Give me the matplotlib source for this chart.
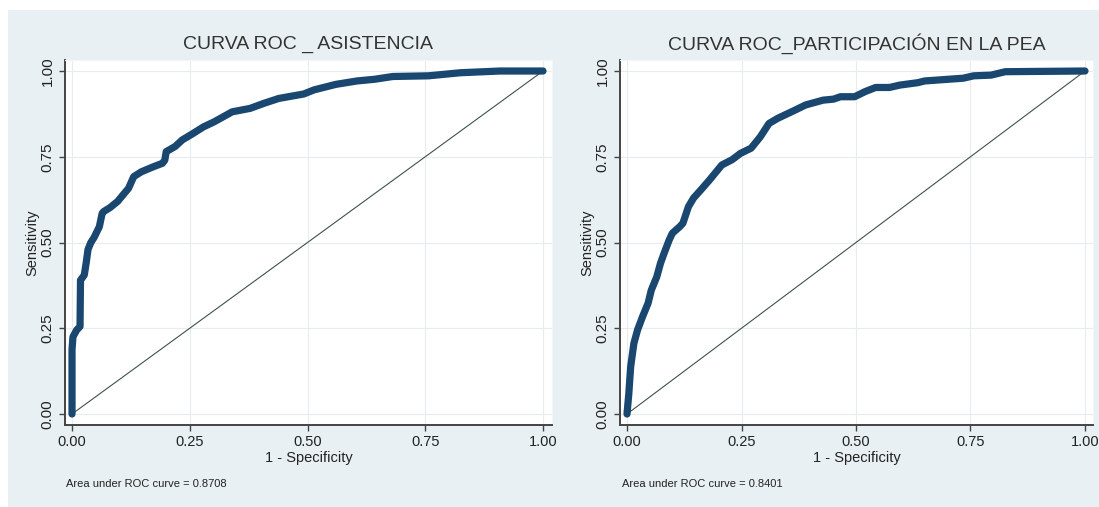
import numpy as np
import matplotlib
matplotlib.use('Agg')
import matplotlib.pyplot as plt
from matplotlib.patches import Rectangle

# Fuente tipo Arial (Stata)
plt.rcParams['font.family'] = ['Liberation Sans', 'DejaVu Sans']

# ==========================================
# Datos de las curvas ROC (1 - especificidad, sensibilidad)
# ==========================================
asistencia_fpr = [0.0, 0.0, 0.002, 0.006, 0.010, 0.017, 0.018, 0.026, 0.030, 0.034,
                  0.040, 0.047, 0.058, 0.064, 0.067, 0.081, 0.097, 0.109, 0.120, 0.131,
                  0.147, 0.173, 0.192, 0.197, 0.200, 0.219, 0.234, 0.257, 0.279, 0.302,
                  0.340, 0.378, 0.408, 0.439, 0.492, 0.514, 0.560, 0.605, 0.643, 0.681,
                  0.757, 0.825, 0.909, 1.0]
asistencia_tpr = [0.0, 0.187, 0.225, 0.235, 0.245, 0.255, 0.390, 0.405, 0.440, 0.480,
                  0.500, 0.515, 0.546, 0.585, 0.590, 0.602, 0.620, 0.640, 0.658, 0.692,
                  0.706, 0.721, 0.731, 0.740, 0.765, 0.780, 0.799, 0.818, 0.837, 0.852,
                  0.881, 0.891, 0.906, 0.920, 0.933, 0.945, 0.961, 0.971, 0.976, 0.984,
                  0.986, 0.995, 1.0, 1.0]

pea_fpr = [0.0, 0.002, 0.004, 0.008, 0.015, 0.023, 0.034, 0.046, 0.053, 0.065,
           0.073, 0.080, 0.092, 0.099, 0.115, 0.122, 0.134, 0.145, 0.161, 0.180,
           0.207, 0.229, 0.248, 0.271, 0.291, 0.310, 0.329, 0.367, 0.390, 0.428,
           0.451, 0.466, 0.497, 0.520, 0.543, 0.573, 0.596, 0.635, 0.650, 0.734,
           0.757, 0.795, 0.826, 1.0]
pea_tpr = [0.0, 0.030, 0.060, 0.138, 0.206, 0.245, 0.284, 0.323, 0.361, 0.400,
           0.439, 0.465, 0.507, 0.527, 0.546, 0.556, 0.604, 0.629, 0.653, 0.682,
           0.726, 0.741, 0.760, 0.775, 0.808, 0.847, 0.862, 0.886, 0.901, 0.915,
           0.918, 0.925, 0.925, 0.940, 0.952, 0.952, 0.959, 0.966, 0.971, 0.979,
           0.986, 0.988, 0.998, 1.0]

titles = ['CURVA ROC _ ASISTENCIA', 'CURVA ROC_PARTICIPACIÓN EN LA PEA']
auc_values = [0.8708, 0.8401]
ticks = [0.0, 0.25, 0.5, 0.75, 1.0]
tick_labels = ['0.00', '0.25', '0.50', '0.75', '1.00']

BG = '#e9f0f3'
NAVY = '#1a476f'
W, H = 1099, 507


def px_axes(left, right, top, bottom):
    # convierte bordes en pixeles a coordenadas de figura
    return [left / W, (H - bottom) / H, (right - left) / W, (bottom - top) / H]


def plot_roc(fig, rect, xlim, fpr, tpr, title, auc, title_x, label_x):
    ax = fig.add_axes(rect)
    ax.set_facecolor('white')
    ax.plot([0, 1], [0, 1], color='#3f5247', linewidth=0.8, zorder=2)
    ax.plot(fpr, tpr, color=NAVY, linewidth=5.2, solid_capstyle='round',
            solid_joinstyle='round', zorder=3)

    ax.set_xlim(*xlim)
    ax.set_ylim(-0.0321, 1.0321)
    ax.set_xticks(ticks)
    ax.set_xticklabels(tick_labels, fontsize=10.5, color='#222222')
    ax.set_yticks(ticks)
    ax.set_yticklabels(tick_labels, fontsize=11, color='#222222',
                       rotation=90, va='center')
    ax.tick_params(direction='out', length=4.5, width=1.0, color='#444444', pad=3)
    ax.grid(True, color='#e6ecef', linewidth=0.8, zorder=0)

    for side in ['top', 'right']:
        ax.spines[side].set_color('#f2f6f7')
        ax.spines[side].set_linewidth(0.8)
    for side in ['left', 'bottom']:
        ax.spines[side].set_color('#444444')
        ax.spines[side].set_linewidth(1.4)

    ax.set_ylabel('Sensitivity', fontsize=10.5, color='#222222', labelpad=1)
    ax.set_xlabel('1 - Specificity', fontsize=10.5, color='#222222', labelpad=1)

    fig.text(title_x / W, 1 - 44 / H, title, fontsize=14, color='#333333',
             ha='center', va='center')
    fig.text(label_x / W, 1 - 484 / H, f'Area under ROC curve = {auc:.4f}',
             fontsize=8, color='#222222', ha='left', va='center')
    return ax


fig = plt.figure(figsize=(W / 100, H / 100), dpi=100, facecolor='white')
fig.patches.append(Rectangle((8 / W, 0), 1 - 8 / W, (H - 10) / H,
                             transform=fig.transFigure, facecolor=BG,
                             edgecolor='none', zorder=-1))

plot_roc(fig, px_axes(65, 552, 60, 425), (-0.0149, 1.0191),
         asistencia_fpr, asistencia_tpr, titles[0], auc_values[0], 308, 66)
plot_roc(fig, px_axes(620, 1093, 60, 425), (-0.0153, 1.0175),
         pea_fpr, pea_tpr, titles[1], auc_values[1], 857, 622)

fig.savefig('out.png', dpi=100, facecolor='white')
